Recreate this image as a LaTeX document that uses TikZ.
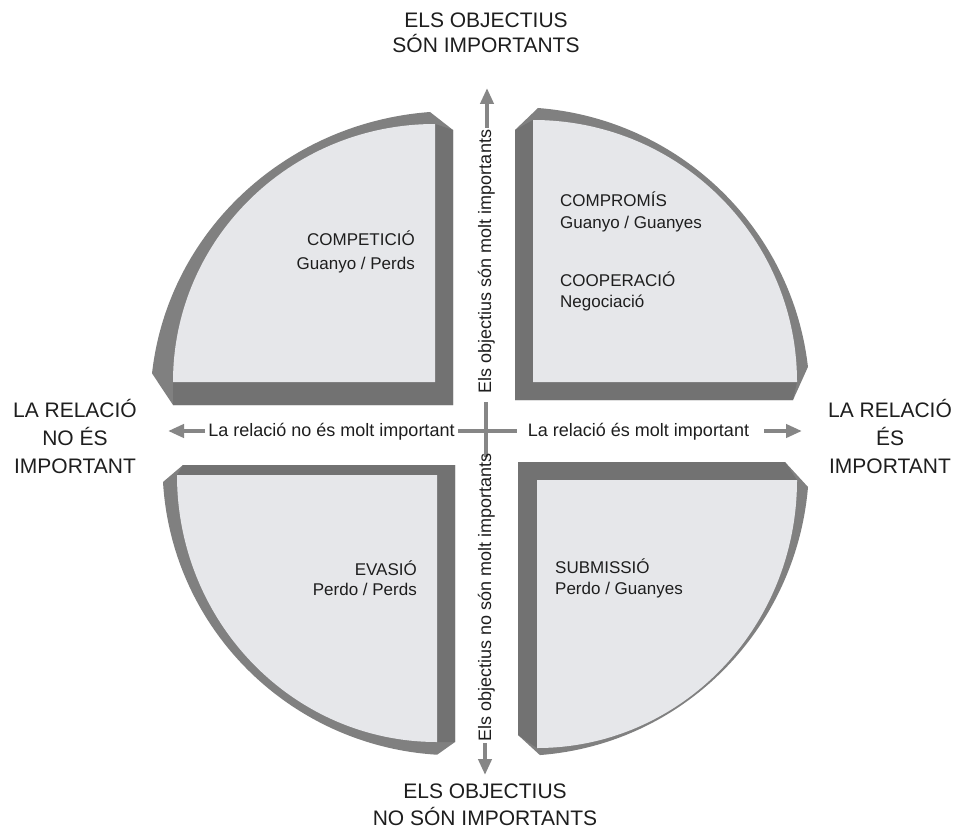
\documentclass[tikz,border=0pt]{standalone}
\usepackage{fontspec}
\setmainfont{Liberation Sans}
\usetikzlibrary{arrows.meta}
\definecolor{band}{HTML}{808080}
\definecolor{side}{HTML}{727272}
\definecolor{face}{HTML}{E6E7EA}
\definecolor{axis}{HTML}{868686}
\definecolor{ink}{HTML}{1E1E1E}
\tikzset{
  bandfill/.style={fill=band, draw=none},
  sidefill/.style={fill=side, draw=none},
  facefill/.style={fill=face, draw=none},
  axisline/.style={draw=axis, line width=4pt},
  axisarrow/.style={axisline, -{Triangle[length=16pt,width=13pt]}},
  bigtxt/.style={font=\fontsize{21}{27}\selectfont, text=ink, inner sep=0pt},
  axtxt/.style={font=\fontsize{18}{22}\selectfont, text=ink, inner sep=0pt},
  qtxt/.style={font=\fontsize{17}{22}\selectfont, text=ink, inner sep=0pt},
}
\begin{document}
\begin{tikzpicture}[x=1pt,y=1pt,yscale=-1]
\fill[white] (0,0) rectangle (971,832);
\useasboundingbox (0,0) rectangle (971,832);

% ---- top-left piece
\path[bandfill] (453,405) -- (453,130) -- (430,112)
  arc[start angle=265.6, end angle=186.2, x radius=303, y radius=294]
  -- (173,405) -- cycle;
\path[sidefill] (435,124) -- (453,130) -- (453,405) -- (173,405) -- (173,382) -- (435,382) -- cycle;
\path[facefill] (435,382) -- (435,124)
  arc[start angle=270, end angle=180, x radius=262, y radius=258] -- cycle;

% ---- top-right piece
\path[bandfill] (515,400) -- (515,130) -- (538,108)
  arc[start angle=274.5, end angle=353.5, x radius=295, y radius=293]
  -- (793,400) -- cycle;
\path[sidefill] (533,120) -- (515,130) -- (515,400) -- (793,400) -- (797,382) -- (533,382) -- cycle;
\path[facefill] (533,382) -- (533,120)
  arc[start angle=270, end angle=360, x radius=264, y radius=262] -- cycle;

% ---- bottom-left piece
\path[bandfill] (455,465) -- (183,465) -- (163,482)
  arc[start angle=176.6, end angle=93.5, x radius=292.5, y radius=290.5]
  -- (455,742) -- cycle;
\path[sidefill] (177,475) -- (183,465) -- (455,465) -- (455,742) -- (437,742) -- (437,475) -- cycle;
\path[facefill] (437,475) -- (177,475)
  arc[start angle=180, end angle=90, x radius=260, y radius=267] -- cycle;

% ---- bottom-right piece
\path[bandfill] (518,462) -- (785,462) -- (808,487)
  arc[start angle=4.9, end angle=85.7, x radius=291, y radius=294]
  -- (518,735) -- cycle;
\path[sidefill] (797,480) -- (785,462) -- (518,462) -- (518,735) -- (537,748) -- (537,480) -- cycle;
\path[facefill] (537,480) -- (797,480)
  arc[start angle=0, end angle=90, x radius=260, y radius=268] -- cycle;

% ---- axes
\coordinate (la0) at (205,431); \coordinate (la1) at (168,431);
\coordinate (ra0) at (764,431); \coordinate (ra1) at (802,431);
\coordinate (ua0) at (487,128); \coordinate (ua1) at (487,88);
\coordinate (da0) at (485,743); \coordinate (da1) at (485,775);
\coordinate (ch0) at (458,431); \coordinate (ch1) at (517,431);
\coordinate (cv0) at (486,402); \coordinate (cv1) at (486,457);
\draw[axisarrow] (la0) -- (la1);
\draw[axisarrow] (ra0) -- (ra1);
\draw[axisarrow] (ua0) -- (ua1);
\draw[axisarrow] (da0) -- (da1);
\draw[axisline] (ch0) -- (ch1);
\draw[axisline] (cv0) -- (cv1);

% ---- axis texts
\node[axtxt, anchor=base] (hl) at (331.5,436) {La relació no és molt important};
\node[axtxt, anchor=base] (hr) at (638.5,436) {La relació és molt important};
\node[axtxt, anchor=base, rotate=90] (vu) at (491,261.5) {Els objectius són molt importants};
\node[axtxt, anchor=base, rotate=90] (vd) at (491,597.5) {Els objectius no són molt importants};

% ---- big labels
\node[bigtxt, anchor=base] (t1) at (486,28) {ELS OBJECTIUS};
\node[bigtxt, anchor=base] (t2) at (486,53) {SÓN IMPORTANTS};
\node[bigtxt, anchor=base] (b1) at (485,798) {ELS OBJECTIUS};
\node[bigtxt, anchor=base] (b2) at (485,825) {NO SÓN IMPORTANTS};
\node[bigtxt, anchor=base] (l1) at (75,417) {LA RELACIÓ};
\node[bigtxt, anchor=base] (l2) at (75,445) {NO ÉS};
\node[bigtxt, anchor=base] (l3) at (75,473) {IMPORTANT};
\node[bigtxt, anchor=base] (r1) at (890,417) {LA RELACIÓ};
\node[bigtxt, anchor=base] (r2) at (890,445) {ÉS};
\node[bigtxt, anchor=base] (r3) at (890,473) {IMPORTANT};

% ---- quadrant texts
\node[qtxt, anchor=base east] (q1a) at (415,245) {COMPETICIÓ};
\node[qtxt, anchor=base east] (q1b) at (415,269) {Guanyo / Perds};
\node[qtxt, anchor=base west] (q2a) at (560,206) {COMPROMÍS};
\node[qtxt, anchor=base west] (q2b) at (560,228) {Guanyo / Guanyes};
\node[qtxt, anchor=base west] (q2c) at (560,286) {COOPERACIÓ};
\node[qtxt, anchor=base west] (q2d) at (560,307) {Negociació};
\node[qtxt, anchor=base east] (q3a) at (417,575) {EVASIÓ};
\node[qtxt, anchor=base east] (q3b) at (417,595) {Perdo / Perds};
\node[qtxt, anchor=base west] (q4a) at (555,573) {SUBMISSIÓ};
\node[qtxt, anchor=base west] (q4b) at (555,594) {Perdo / Guanyes};
\end{tikzpicture}
\end{document}
